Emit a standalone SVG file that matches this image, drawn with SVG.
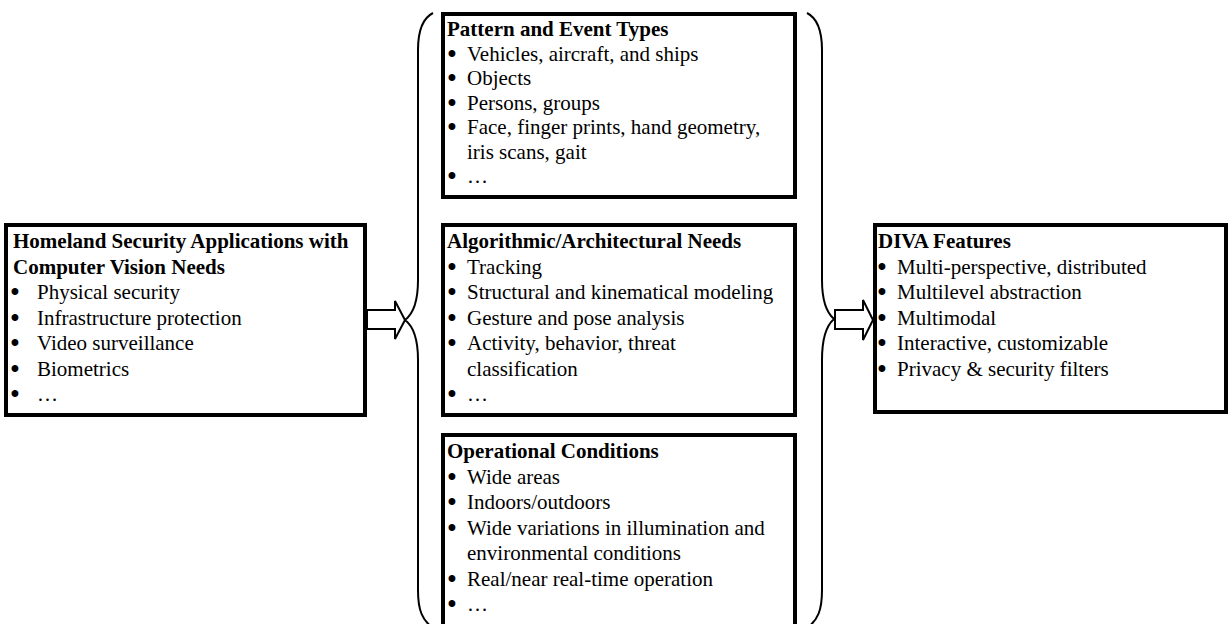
<svg xmlns="http://www.w3.org/2000/svg" width="1232" height="624" viewBox="0 0 1232 624">
<style>
.box{fill:#fff;stroke:#000;stroke-width:4}
.t{font-family:"Liberation Serif","Times New Roman",serif;font-size:21px;fill:#000}
.b{font-weight:bold}
.bl{font-family:"Liberation Serif","Times New Roman",serif;font-size:21px;fill:#000;stroke:#000;stroke-width:1.8;stroke-linejoin:round;text-anchor:middle}
.brace{fill:none;stroke:#000;stroke-width:2}
.arr{fill:#fff;stroke:#000;stroke-width:2;stroke-linejoin:miter}
</style>
<rect width="1232" height="624" fill="#fff"/>
<g id="connectors">
<path class="brace" d="M433,13 C423,18 418,30 418,50 L418,280 C418,303 413,314 405,320 C413,326 418,337 418,360 L418,590 C418,610 422,620 433,628"/>
<path class="brace" d="M807,13 C817,18 822,30 822,50 L822,280 C822,303 827,313 834,319 C827,325 822,337 822,360 L822,590 C822,610 818,620 807,628"/>
<polygon class="arr" points="367,310 395,310 395,301 405,320 395,339 395,329 367,329"/>
<polygon class="arr" points="835,310 863,310 863,300 873,320 863,340 863,329 835,329"/>
</g>
<g id="homeland">
<rect class="box" x="6" y="225" width="359" height="190"/>
<text class="t b" x="13" y="248">Homeland Security Applications with</text>
<text class="t b" x="13" y="273.5">Computer Vision Needs</text>
<text class="bl" x="15" y="299">•</text><text class="t" x="37" y="299">Physical security</text>
<text class="bl" x="15" y="324.5">•</text><text class="t" x="37" y="324.5">Infrastructure protection</text>
<text class="bl" x="15" y="350">•</text><text class="t" x="37" y="350">Video surveillance</text>
<text class="bl" x="15" y="375.5">•</text><text class="t" x="37" y="375.5">Biometrics</text>
<text class="bl" x="15" y="401">•</text><text class="t" x="37" y="401">…</text>
</g>
<g id="pattern">
<rect class="box" x="443" y="14" width="352" height="183"/>
<text class="t b" x="447" y="36">Pattern and Event Types</text>
<text class="bl" x="452" y="60.5">•</text><text class="t" x="467" y="60.5">Vehicles, aircraft, and ships</text>
<text class="bl" x="452" y="85">•</text><text class="t" x="467" y="85">Objects</text>
<text class="bl" x="452" y="109.5">•</text><text class="t" x="467" y="109.5">Persons, groups</text>
<text class="bl" x="452" y="134">•</text><text class="t" x="467" y="134">Face, finger prints, hand geometry,</text>
<text class="t" x="467" y="158.5">iris scans, gait</text>
<text class="bl" x="452" y="183">•</text><text class="t" x="467" y="183">…</text>
</g>
<g id="algorithmic">
<rect class="box" x="443" y="225" width="352" height="190"/>
<text class="t b" x="447" y="248">Algorithmic/Architectural Needs</text>
<text class="bl" x="452" y="273.5">•</text><text class="t" x="467" y="273.5">Tracking</text>
<text class="bl" x="452" y="299">•</text><text class="t" x="467" y="299">Structural and kinematical modeling</text>
<text class="bl" x="452" y="324.5">•</text><text class="t" x="467" y="324.5">Gesture and pose analysis</text>
<text class="bl" x="452" y="350">•</text><text class="t" x="467" y="350">Activity, behavior, threat</text>
<text class="t" x="467" y="375.5">classification</text>
<text class="bl" x="452" y="401">•</text><text class="t" x="467" y="401">…</text>
</g>
<g id="operational">
<rect class="box" x="443" y="435" width="352" height="200"/>
<text class="t b" x="447" y="458">Operational Conditions</text>
<text class="bl" x="452" y="483.5">•</text><text class="t" x="467" y="483.5">Wide areas</text>
<text class="bl" x="452" y="509">•</text><text class="t" x="467" y="509">Indoors/outdoors</text>
<text class="bl" x="452" y="534.5">•</text><text class="t" x="467" y="534.5">Wide variations in illumination and</text>
<text class="t" x="467" y="560">environmental conditions</text>
<text class="bl" x="452" y="585.5">•</text><text class="t" x="467" y="585.5">Real/near real-time operation</text>
<text class="bl" x="452" y="611">•</text><text class="t" x="467" y="611">…</text>
</g>
<g id="diva">
<rect class="box" x="875" y="225" width="351" height="187"/>
<text class="t b" x="878" y="248">DIVA Features</text>
<text class="bl" x="882" y="273.5">•</text><text class="t" x="897" y="273.5">Multi-perspective, distributed</text>
<text class="bl" x="882" y="299">•</text><text class="t" x="897" y="299">Multilevel abstraction</text>
<text class="bl" x="882" y="324.5">•</text><text class="t" x="897" y="324.5">Multimodal</text>
<text class="bl" x="882" y="350">•</text><text class="t" x="897" y="350">Interactive, customizable</text>
<text class="bl" x="882" y="375.5">•</text><text class="t" x="897" y="375.5">Privacy &amp; security filters</text>
</g>
</svg>
